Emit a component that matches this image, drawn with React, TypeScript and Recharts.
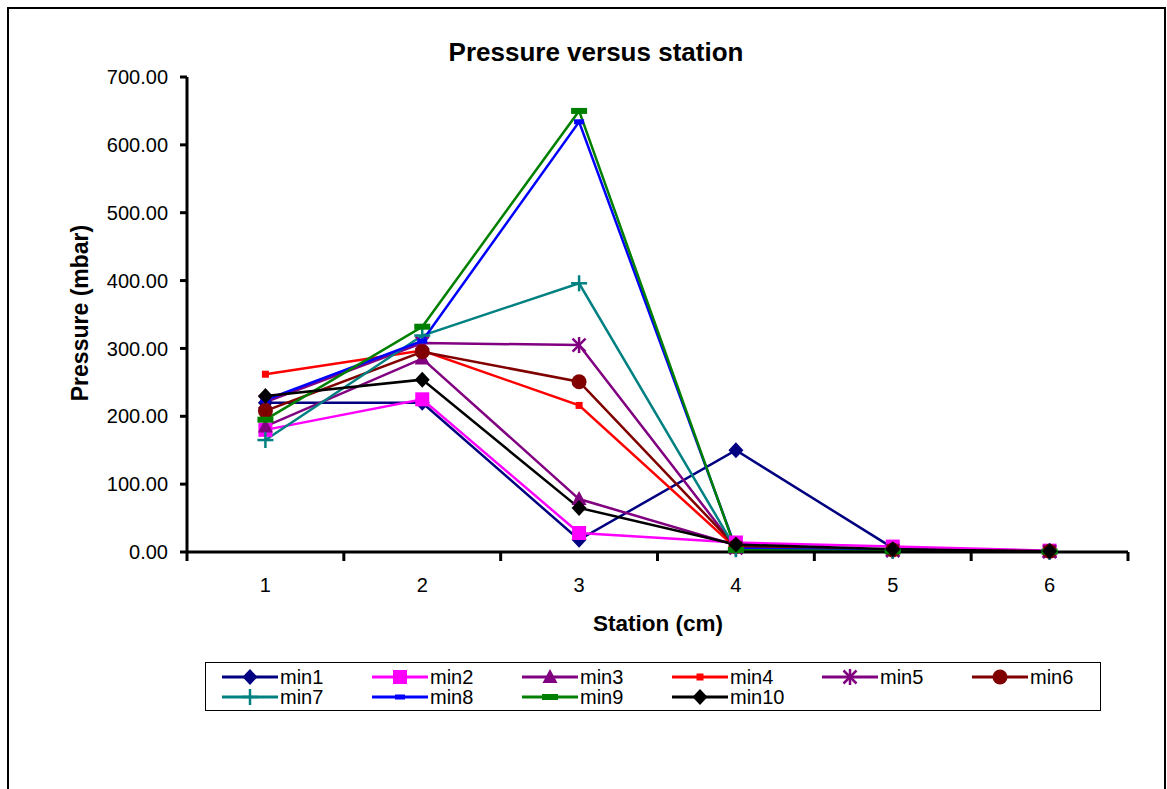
import React from 'react';
import { LineChart, Line, XAxis, YAxis } from 'recharts';

const STATIONS = [1, 2, 3, 4, 5, 6];
const Y_TICKS = [0, 100, 200, 300, 400, 500, 600, 700];

const MIN1 = [220, 220, 18, 150, 6, 1];
const MIN2 = [180, 225, 28, 14, 8, 2];
const MIN3 = [185, 285, 78, 10, 3, 1];
const MIN4 = [262, 297, 216, 6, 2, 0.5];
const MIN5 = [221, 308, 305, 6, 2, 0.5];
const MIN6 = [208, 295, 251, 8, 3, 1];
const MIN7 = [165, 319, 396, 4, 2, 0.5];
const MIN8 = [224, 311, 634, 5, 2, 0.5];
const MIN9 = [195, 332, 650, 3, 1, 0.5];
const MIN10 = [230, 254, 65, 11, 4, 1];

type Shape = 'diamond' | 'square' | 'triangle' | 'smallSquare' | 'asterisk' | 'circle' | 'plus' | 'dash' | 'wideDash';

const SERIES: { key: string; values: number[]; color: string; shape: Shape }[] = [
  { key: 'min1', values: MIN1, color: '#000080', shape: 'diamond' },
  { key: 'min2', values: MIN2, color: '#ff00ff', shape: 'square' },
  { key: 'min3', values: MIN3, color: '#800080', shape: 'triangle' },
  { key: 'min4', values: MIN4, color: '#ff0000', shape: 'smallSquare' },
  { key: 'min5', values: MIN5, color: '#800080', shape: 'asterisk' },
  { key: 'min6', values: MIN6, color: '#800000', shape: 'circle' },
  { key: 'min7', values: MIN7, color: '#008080', shape: 'plus' },
  { key: 'min8', values: MIN8, color: '#0000ff', shape: 'dash' },
  { key: 'min9', values: MIN9, color: '#008000', shape: 'wideDash' },
  { key: 'min10', values: MIN10, color: '#000000', shape: 'diamond' },
];

const data = STATIONS.map((s, i) => {
  const row: Record<string, number> = { station: s };
  SERIES.forEach(ser => { row[ser.key] = ser.values[i]; });
  return row;
});

// page geometry
const CHART_W = 1167;
const CHART_H = 789;
const PLOT_LEFT = 187;
const PLOT_RIGHT = 1128;
const PLOT_TOP = 77;
const PLOT_BOTTOM = 552;
const Y_AXIS_W = 70;
const X_AXIS_H = 40;
const HALF_BAND = (PLOT_RIGHT - PLOT_LEFT) / STATIONS.length / 2;
const FONT = '"Liberation Sans", Arial, sans-serif';

const Marker = ({ shape, color, cx, cy }: { shape: Shape; color: string; cx: number; cy: number }) => {
  switch (shape) {
    case 'diamond':
      return <polygon points={`${cx},${cy - 8} ${cx + 7.5},${cy} ${cx},${cy + 8} ${cx - 7.5},${cy}`} fill={color} />;
    case 'square':
      return <rect x={cx - 7} y={cy - 7} width={14} height={14} fill={color} />;
    case 'triangle':
      return <polygon points={`${cx},${cy - 8} ${cx + 7.5},${cy + 6} ${cx - 7.5},${cy + 6}`} fill={color} />;
    case 'smallSquare':
      return <rect x={cx - 3.5} y={cy - 3.5} width={7} height={7} fill={color} />;
    case 'asterisk':
      return (
        <g stroke={color} strokeWidth={2.5}>
          <line x1={cx - 6.5} y1={cy - 6.5} x2={cx + 6.5} y2={cy + 6.5} />
          <line x1={cx - 6.5} y1={cy + 6.5} x2={cx + 6.5} y2={cy - 6.5} />
          <line x1={cx} y1={cy - 8} x2={cx} y2={cy + 8} />
        </g>
      );
    case 'circle':
      return <circle cx={cx} cy={cy} r={7.5} fill={color} />;
    case 'plus':
      return (
        <g stroke={color} strokeWidth={2.5}>
          <line x1={cx - 8} y1={cy} x2={cx + 8} y2={cy} />
          <line x1={cx} y1={cy - 8} x2={cx} y2={cy + 8} />
        </g>
      );
    case 'dash':
      return <rect x={cx - 5} y={cy - 2.5} width={10} height={5} fill={color} />;
    case 'wideDash':
      return <rect x={cx - 8} y={cy - 3} width={16} height={6} fill={color} />;
  }
  return null;
};

const XTick = (props: any) => {
  const { x, payload } = props;
  return (
    <g>
      {payload.value === STATIONS[0] && (
        <line x1={x - HALF_BAND} x2={x - HALF_BAND} y1={PLOT_BOTTOM} y2={PLOT_BOTTOM + 9} stroke="#000" strokeWidth={3} />
      )}
      <line x1={x + HALF_BAND} x2={x + HALF_BAND} y1={PLOT_BOTTOM} y2={PLOT_BOTTOM + 9} stroke="#000" strokeWidth={3} />
      <text x={x} y={PLOT_BOTTOM + 40} textAnchor="middle" fontSize={20} fontFamily={FONT} fill="#000">
        {payload.value}
      </text>
    </g>
  );
};

const App: React.FC = () => {
  return (
    <div style={{ position: 'fixed', left: 0, top: 0, width: CHART_W, height: CHART_H, background: '#fff', overflow: 'hidden', fontFamily: FONT }}>
      <div style={{ position: 'absolute', left: 7, top: 7, width: 1159, height: 820, border: '2px solid #000', boxSizing: 'border-box' }} />

      <div style={{ position: 'absolute', left: 396, top: 36, width: 400, textAlign: 'center', fontSize: 26, fontWeight: 'bold', lineHeight: '32px' }}>
        Pressure versus station
      </div>
      <div style={{ position: 'absolute', left: 80 - 150, top: 313 - 16, width: 300, textAlign: 'center', fontSize: 23, fontWeight: 'bold', lineHeight: '32px', transform: 'rotate(-90deg)' }}>
        Pressure (mbar)
      </div>
      <div style={{ position: 'absolute', left: 508, top: 608, width: 300, textAlign: 'center', fontSize: 22.5, fontWeight: 'bold', lineHeight: '32px' }}>
        Station (cm)
      </div>

      <LineChart
        width={CHART_W}
        height={CHART_H}
        data={data}
        style={{ position: 'absolute', left: 0, top: 0 }}
        margin={{
          top: PLOT_TOP,
          right: CHART_W - PLOT_RIGHT,
          left: PLOT_LEFT - Y_AXIS_W,
          bottom: CHART_H - PLOT_BOTTOM - X_AXIS_H,
        }}
      >
        <XAxis
          dataKey="station"
          type="number"
          domain={[0.5, 6.5]}
          ticks={STATIONS}
          interval={0}
          height={X_AXIS_H}
          axisLine={{ stroke: '#000', strokeWidth: 3 }}
          tickLine={false}
          tick={<XTick />}
        />
        <YAxis
          type="number"
          domain={[0, 700]}
          ticks={Y_TICKS}
          width={Y_AXIS_W}
          axisLine={{ stroke: '#000', strokeWidth: 3 }}
          tickLine={{ stroke: '#000', strokeWidth: 3 }}
          tickSize={7}
          tickMargin={12}
          tick={{ fill: '#000', fontSize: 20, fontFamily: FONT }}
          tickFormatter={(v: number) => v.toFixed(2)}
        />
        {SERIES.map(ser => (
          <Line
            key={ser.key}
            dataKey={ser.key}
            stroke={ser.color}
            strokeWidth={2.5}
            isAnimationActive={false}
            dot={(p: any) => (
              <g key={`${ser.key}-${p.index}`}>
                <Marker shape={ser.shape} color={ser.color} cx={p.cx} cy={p.cy} />
              </g>
            )}
            activeDot={false}
          />
        ))}
      </LineChart>

      <div style={{ position: 'absolute', left: 205, top: 662, width: 896, height: 49, border: '1px solid #000', boxSizing: 'border-box' }}>
        {SERIES.map((ser, i) => {
          const col = i % 6;
          const row = Math.floor(i / 6);
          return (
            <div key={ser.key} style={{ position: 'absolute', left: 14 + col * 150, top: 4 + row * 20, height: 20, display: 'flex', alignItems: 'center' }}>
              <svg width={60} height={20}>
                <line x1={2} x2={58} y1={10} y2={10} stroke={ser.color} strokeWidth={3} />
                <Marker shape={ser.shape} color={ser.color} cx={30} cy={10} />
              </svg>
              <span style={{ fontSize: 20, lineHeight: '20px', marginLeft: 0 }}>{ser.key}</span>
            </div>
          );
        })}
      </div>
    </div>
  );
};

export default App;
